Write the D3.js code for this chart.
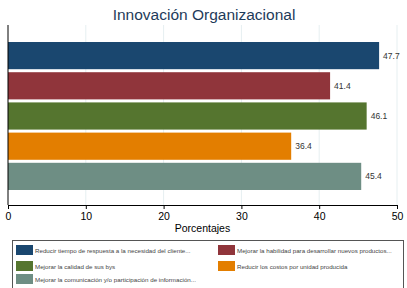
<!DOCTYPE html>
<html>
<head>
<meta charset="utf-8">
<script src="https://cdn.jsdelivr.net/npm/d3@7"></script>
<style>
body{margin:0;background:#fff;}
svg{display:block;font-family:"Liberation Sans",Arial,Helvetica,sans-serif;}
</style>
</head>
<body>
<svg id="chart"></svg>
<script>
var categories = [
  "Reducir tiempo de respuesta a la necesidad del cliente...",
  "Mejorar la habilidad para desarrollar nuevos productos...",
  "Mejorar la calidad de sus bys",
  "Reducir los costos por unidad producida",
  "Mejorar la comunicación y/o participación de información..."
]
var values = [47.7, 41.4, 46.1, 36.4, 45.4]
var colors = ["#1a476f", "#90353b", "#55752f", "#e37e00", "#6e8e84"]
var xTicks = [0, 10, 20, 30, 40, 50]

var screen = {width: 407, height: 288}
var margin = {left: 8, right: 10, top: 25, bottom: 83}

var svg = d3.select("#chart")
  .attr("width", screen.width)
  .attr("height", screen.height)

var width = screen.width - margin.left - margin.right
var height = screen.height - margin.top - margin.bottom

var xScale = d3.scaleLinear()
  .domain([0, 50])
  .range([margin.left, margin.left + 389])

var yScale = d3.scaleBand()
  .domain(categories)
  .range([margin.top + 15.5, margin.top + height - 13.5])
  .paddingInner(0.1)
  .paddingOuter(0.05)

// title
svg.append("text")
  .attr("x", 204)
  .attr("y", 20)
  .attr("text-anchor", "middle")
  .attr("font-size", 15.5)
  .attr("fill", "#1e3b5a")
  .text("Innovación Organizacional")

// grid
svg.selectAll(".grid")
  .data(xTicks.slice(1))
  .enter()
  .append("line")
  .attr("x1", function(d){ return xScale(d) })
  .attr("x2", function(d){ return xScale(d) })
  .attr("y1", margin.top)
  .attr("y2", margin.top + height)
  .attr("stroke", "#e6eff1")
  .attr("stroke-width", 1)

// bars
svg.selectAll(".bar")
  .data(values)
  .enter()
  .append("rect")
  .attr("x", xScale(0))
  .attr("y", function(d, i){ return yScale(categories[i]) })
  .attr("width", function(d){ return xScale(d) - xScale(0) })
  .attr("height", yScale.bandwidth())
  .attr("fill", function(d, i){ return colors[i] })

svg.selectAll(".lbl")
  .data(values)
  .enter()
  .append("text")
  .attr("x", function(d){ return xScale(d) + 4 })
  .attr("y", function(d, i){ return yScale(categories[i]) + yScale.bandwidth()/2 + 3 })
  .attr("font-size", 8.5)
  .attr("fill", "#333")
  .text(function(d){ return d.toFixed(1) })

// axes
var xAxis = d3.axisBottom(xScale).tickValues(xTicks).tickSize(4).tickFormat(d3.format("d"))
var gx = svg.append("g")
  .attr("transform", "translate(0," + (margin.top + height) + ")")
  .call(xAxis)
gx.select(".domain").attr("stroke", "#000")
gx.selectAll("text").attr("font-size", 10.5).attr("fill", "#000").attr("dy", "0.75em")
  .attr("font-family", "'Liberation Sans',Arial,sans-serif")

svg.append("line")
  .attr("x1", xScale(0)).attr("x2", xScale(0))
  .attr("y1", margin.top).attr("y2", margin.top + height)
  .attr("stroke", "#000")

svg.append("text")
  .attr("x", xScale(25))
  .attr("y", 232)
  .attr("text-anchor", "middle")
  .attr("font-size", 10.5)
  .attr("fill", "#000")
  .text("Porcentajes")

// legend
svg.append("rect")
  .attr("x", 12.5).attr("y", 240.5)
  .attr("width", 391).attr("height", 52)
  .attr("fill", "#fff")
  .attr("stroke", "#555")

var legPos = [[16, 245], [218, 245], [16, 261], [218, 261], [16, 274]]
var leg = svg.selectAll(".leg")
  .data(categories)
  .enter()
  .append("g")
  .attr("transform", function(d, i){ return "translate(" + legPos[i][0] + "," + legPos[i][1] + ")" })

leg.append("rect")
  .attr("width", 17).attr("height", 10)
  .attr("fill", function(d, i){ return colors[i] })

leg.append("text")
  .attr("x", 19)
  .attr("y", 7.5)
  .attr("font-size", 6.2)
  .attr("fill", "#444")
  .text(function(d){ return d })
</script>
</body>
</html>
